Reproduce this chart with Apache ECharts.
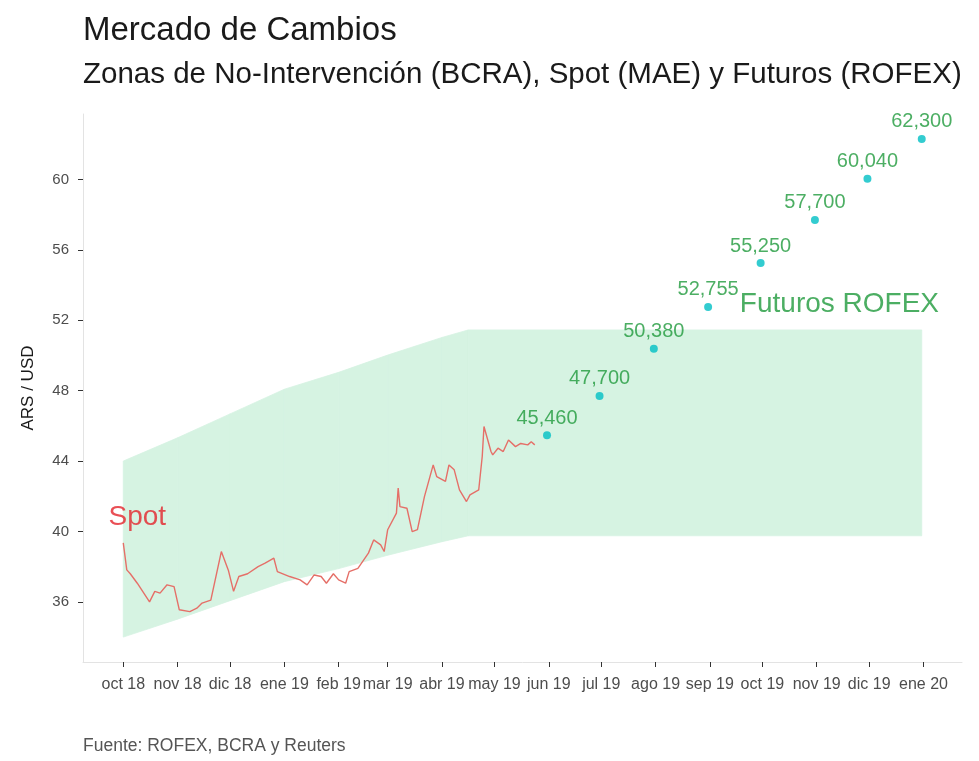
<!DOCTYPE html>
<html>
<head>
<meta charset="utf-8">
<title>Mercado de Cambios</title>
<script src="https://cdn.jsdelivr.net/npm/echarts@6/dist/echarts.min.js"></script>
<style>
  html, body { margin: 0; padding: 0; background: #fff; }
  #chart { width: 979px; height: 761px; }
</style>
</head>
<body>
<div id="chart"></div>
<script>
// cotizacion spot (MAE)
const spotFechas = [
  '2018-10-01', '2018-10-03', '2018-10-05', '2018-10-09', '2018-10-16', '2018-10-19',
  '2018-10-22', '2018-10-26', '2018-10-30', '2018-11-02', '2018-11-08', '2018-11-12',
  '2018-11-15', '2018-11-20', '2018-11-26', '2018-11-30', '2018-12-03', '2018-12-06',
  '2018-12-11', '2018-12-17', '2018-12-21', '2018-12-26', '2018-12-28', '2019-01-04',
  '2019-01-10', '2019-01-14', '2019-01-18', '2019-01-22', '2019-01-25', '2019-01-29',
  '2019-02-01', '2019-02-05', '2019-02-07', '2019-02-12', '2019-02-18', '2019-02-21',
  '2019-02-25', '2019-02-27', '2019-03-01', '2019-03-06', '2019-03-07', '2019-03-08',
  '2019-03-12', '2019-03-15', '2019-03-18', '2019-03-22', '2019-03-27', '2019-03-29',
  '2019-04-03', '2019-04-05', '2019-04-08', '2019-04-11', '2019-04-15', '2019-04-17',
  '2019-04-22', '2019-04-24', '2019-04-25', '2019-04-29', '2019-04-30', '2019-05-03',
  '2019-05-06', '2019-05-09', '2019-05-13', '2019-05-16', '2019-05-20', '2019-05-22',
  '2019-05-24'
];
const spotValores = [
  39.35, 37.82, 37.60, 37.06, 36.00, 36.60,
  36.50, 36.97, 36.87, 35.55, 35.45, 35.64,
  35.93, 36.10, 38.86, 37.80, 36.60, 37.44,
  37.60, 38.00, 38.20, 38.48, 37.72, 37.44,
  37.25, 36.97, 37.53, 37.44, 37.06, 37.60,
  37.25, 37.06, 37.72, 37.90, 38.77, 39.52,
  39.24, 38.86, 40.10, 41.04, 42.46, 41.41,
  41.32, 39.99, 40.10, 41.98, 43.78, 43.12,
  42.84, 43.78, 43.50, 42.36, 41.70, 42.08,
  42.36, 44.26, 45.96, 44.54, 44.35, 44.73,
  44.54, 45.20, 44.82, 45.00, 44.92, 45.10,
  44.92
];

// zona de no intervencion (BCRA)
const zonaFechas = ['2018-10-01', '2018-11-01', '2018-12-01', '2019-01-01', '2019-02-01',
  '2019-03-01', '2019-04-01', '2019-04-16', '2019-12-31'];
const zonaInferior = [34.00, 35.02, 36.07, 37.15, 37.89, 38.65, 39.42, 39.755, 39.755];
const zonaSuperior = [44.00, 45.32, 46.68, 48.08, 49.04, 50.02, 51.02, 51.448, 51.448];

// futuros ROFEX (fin de mes)
const futurosFechas = ['2019-05-31', '2019-06-30', '2019-07-31', '2019-08-31',
  '2019-09-30', '2019-10-31', '2019-11-30', '2019-12-31'];
const futurosValores = [45.460, 47.700, 50.380, 52.755, 55.250, 57.700, 60.040, 62.300];

// ejes
const yTicks = [36, 40, 44, 48, 52, 56, 60];
const xTickFechas = ['2018-10-01', '2018-11-01', '2018-12-01', '2019-01-01', '2019-02-01',
  '2019-03-01', '2019-04-01', '2019-05-01', '2019-06-01', '2019-07-01', '2019-08-01',
  '2019-09-01', '2019-10-01', '2019-11-01', '2019-12-01', '2020-01-01'];
const xTickEtiquetas = ['oct 18', 'nov 18', 'dic 18', 'ene 19', 'feb 19', 'mar 19', 'abr 19',
  'may 19', 'jun 19', 'jul 19', 'ago 19', 'sep 19', 'oct 19', 'nov 19', 'dic 19', 'ene 20'];

const fuente = 'Arial, "Liberation Sans", Helvetica, sans-serif';
const verdeZona = '#d6f3e2';

function ts(s) {
  const p = s.split('-').map(Number);
  return Date.UTC(p[0], p[1] - 1, p[2]);
}

const xTicks = xTickFechas.map(ts);
const spotData = spotFechas.map((f, i) => [ts(f), spotValores[i]]);
const zonaData = zonaFechas.map((f, i) => [ts(f), zonaInferior[i], zonaSuperior[i]]);
const futurosData = futurosFechas.map((f, i) => [ts(f), futurosValores[i]]);

// cada tramo de la zona es un cuadrilatero entre una fecha y la siguiente
function tramoZona(params, api) {
  const i = params.dataIndex;
  if (i >= zonaData.length - 1) return null;
  const a = zonaData[i], b = zonaData[i + 1];
  const pts = [
    api.coord([a[0], a[1]]), api.coord([b[0], b[1]]),
    api.coord([b[0], b[2]]), api.coord([a[0], a[2]])
  ];
  return {
    type: 'polygon',
    shape: { points: pts },
    style: { fill: verdeZona, stroke: verdeZona, lineWidth: 0.8 }
  };
}

const chart = echarts.init(document.getElementById('chart'));

chart.setOption({
  animation: false,
  backgroundColor: '#ffffff',
  title: [
    {
      text: 'Mercado de Cambios',
      left: 83, top: 14, padding: 0,
      textStyle: { fontFamily: fuente, fontSize: 33, fontWeight: 'normal', color: '#1a1a1a' }
    },
    {
      text: 'Zonas de No-Intervención (BCRA), Spot (MAE) y Futuros (ROFEX)',
      left: 83, top: 60, padding: 0,
      textStyle: { fontFamily: fuente, fontSize: 29.5, fontWeight: 'normal', color: '#1a1a1a' }
    },
    {
      text: 'Fuente: ROFEX, BCRA y Reuters',
      left: 83, top: 737, padding: 0,
      textStyle: { fontFamily: fuente, fontSize: 17.5, fontWeight: 'normal', color: '#555' }
    }
  ],
  grid: { left: 83, right: 17, top: 114, bottom: 99 },
  xAxis: {
    type: 'value',
    min: ts('2018-09-08'),
    max: ts('2020-01-23'),
    axisLine: { show: true, lineStyle: { color: '#e3e3e3', width: 1 } },
    axisTick: { show: true, customValues: xTicks, length: 5, lineStyle: { color: '#333' } },
    axisLabel: {
      customValues: xTicks,
      formatter: function (v) {
        const i = xTicks.indexOf(v);
        return i >= 0 ? xTickEtiquetas[i] : '';
      },
      fontFamily: fuente, fontSize: 16, color: '#4d4d4d', margin: 15
    },
    splitLine: { show: false }
  },
  yAxis: {
    type: 'value',
    min: 32.585,
    max: 63.715,
    name: 'ARS / USD',
    nameLocation: 'middle',
    nameGap: 46,
    nameTextStyle: { fontFamily: fuente, fontSize: 17, color: '#1a1a1a' },
    axisLine: { show: true, lineStyle: { color: '#e3e3e3', width: 1 } },
    axisTick: { show: true, customValues: yTicks, length: 5, lineStyle: { color: '#333' } },
    axisLabel: { customValues: yTicks, fontFamily: fuente, fontSize: 15, color: '#4d4d4d', margin: 14 },
    splitLine: { show: false }
  },
  series: [
    {
      name: 'Zona de no intervención',
      type: 'custom',
      renderItem: tramoZona,
      data: zonaData,
      encode: { x: 0, y: [1, 2] },
      silent: true,
      z: 1
    },
    {
      name: 'Spot',
      type: 'line',
      data: spotData,
      symbol: 'none',
      lineStyle: { color: '#e56f68', width: 1.4 },
      z: 3
    },
    {
      name: 'Futuros ROFEX',
      type: 'scatter',
      data: futurosData,
      symbolSize: 8,
      itemStyle: { color: '#00bfc4' },
      label: {
        show: true,
        position: 'top',
        distance: 3,
        formatter: p => p.value[1].toFixed(3).replace('.', ','),
        fontFamily: fuente, fontSize: 20, color: '#1f9a3c'
      },
      z: 4
    },
    {
      name: 'etiquetas',
      type: 'scatter',
      symbolSize: 0,
      silent: true,
      data: [
        { value: [ts('2018-10-09'), 40.83], label: { formatter: 'Spot', color: '#e3232a' } },
        { value: [ts('2019-11-14'), 52.9], label: { formatter: 'Futuros ROFEX', color: '#1f9a3c', fontSize: 28 } }
      ],
      label: { show: true, position: 'inside', fontFamily: fuente, fontSize: 28 },
      z: 5
    }
  ]
});
</script>
</body>
</html>
